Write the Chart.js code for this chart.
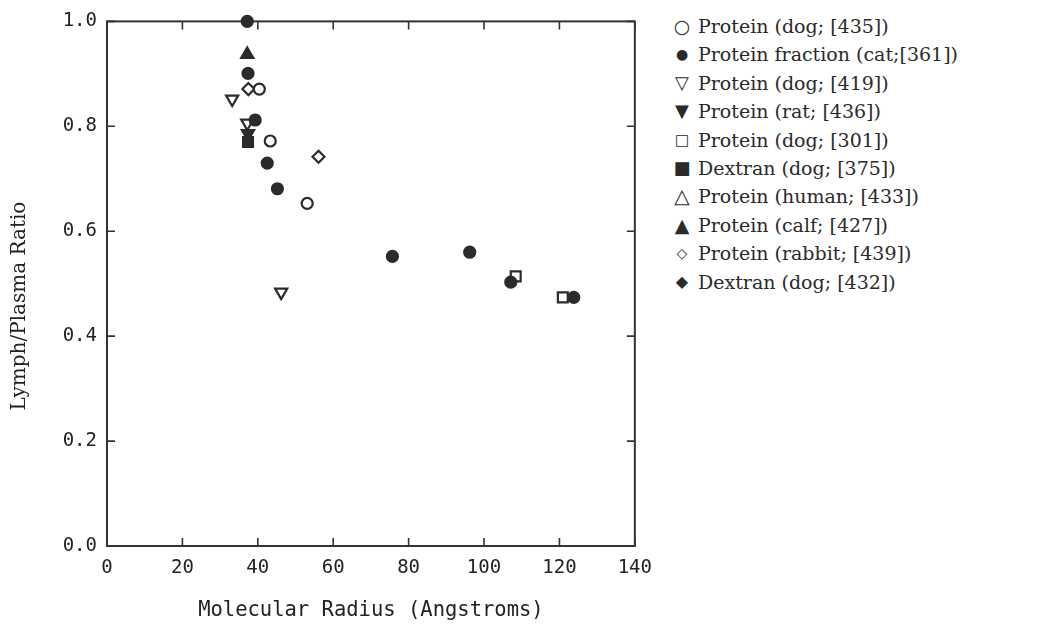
<!DOCTYPE html>
<html>
<head>
<meta charset="utf-8">
<script src="https://cdn.jsdelivr.net/npm/chart.js@4"></script>
<style>
  html, body { margin: 0; padding: 0; background: #fff; }
  #seite { position: relative; width: 1042px; height: 625px; overflow: hidden; }
  #diagramm-box { position: absolute; left: 0; top: 0; width: 663px; height: 625px; }
  #legende { position: absolute; left: 670px; top: 12px; font-family: "DejaVu Serif", serif; font-size: 19px; color: #2a2a2a; }
  #legende .zeile { height: 28.4px; line-height: 28.4px; display: flex; align-items: center; white-space: nowrap; }
  #legende .zeichen { width: 24px; text-align: center; font-family: "DejaVu Sans", sans-serif; margin-right: 4px; }
</style>
</head>
<body>
<div id="seite">
  <div id="diagramm-box"><canvas id="lymph-chart"></canvas></div>
  <div id="legende"></div>
</div>
<script>
// Werte (x = Molekülradius in Angstrom, y = Lymph/Plasma)
const xTicks = [0, 20, 40, 60, 80, 100, 120, 140];
const yTicks = [0.0, 0.2, 0.4, 0.6, 0.8, 1.0];

const labels = [
    'Protein (dog; [435])',
    'Protein fraction (cat;[361])',
    'Protein (dog; [419])',
    'Protein (rat; [436])',
    'Protein (dog; [301])',
    'Dextran (dog; [375])',
    'Protein (human; [433])',
    'Protein (calf; [427])',
    'Protein (rabbit; [439])',
    'Dextran (dog; [432])'
];

const dog435X = [40.4, 43.3, 53.1];
const dog435Y = [0.871, 0.772, 0.653];

const cat361X = [37.2, 37.4, 39.3, 42.5, 45.2, 75.7, 96.2, 107.1, 123.8];
const cat361Y = [1.0, 0.901, 0.812, 0.730, 0.681, 0.552, 0.560, 0.503, 0.474];

const dog419X = [33.2, 37.2, 46.2];
const dog419Y = [0.852, 0.806, 0.484];

const rat436X = [37.4];
const rat436Y = [0.786];

const dog301X = [108.4, 120.9];
const dog301Y = [0.514, 0.474];

const dextran375X = [37.4];
const dextran375Y = [0.770];

const human433X = [];
const human433Y = [];

const calf427X = [37.2];
const calf427Y = [0.937];

const rabbit439X = [37.5, 56.1];
const rabbit439Y = [0.871, 0.742];

const dextran432X = [];
const dextran432Y = [];

// Punkte aus x- und y-Liste zusammensetzen
function punkte(xs, ys) {
    return xs.map(function (x, i) {
        return { x: x, y: ys[i] };
    });
}

const dunkel = '#2b2b2b';

// Marker-Stil pro Serie: [pointStyle, gefüllt, Drehung, Radius, Legendenzeichen, Zeichengrösse]
const stile = [
    ['circle', false, 0, 5.5, '○', 19],
    ['circle', true, 0, 5.5, '●', 14],
    ['triangle', false, 180, 7, '▽', 18],
    ['triangle', true, 180, 7, '▼', 18],
    ['rect', false, 0, 7, '□', 15],
    ['rect', true, 0, 7, '■', 18],
    ['triangle', false, 0, 7, '△', 20],
    ['triangle', true, 0, 7, '▲', 19],
    ['rectRot', false, 0, 6, '◇', 14],
    ['rectRot', true, 0, 6, '◆', 16]
];

const reihen = [
    punkte(dog435X, dog435Y),
    punkte(cat361X, cat361Y),
    punkte(dog419X, dog419Y),
    punkte(rat436X, rat436Y),
    punkte(dog301X, dog301Y),
    punkte(dextran375X, dextran375Y),
    punkte(human433X, human433Y),
    punkte(calf427X, calf427Y),
    punkte(rabbit439X, rabbit439Y),
    punkte(dextran432X, dextran432Y)
];

const datasets = reihen.map(function (daten, i) {
    const s = stile[i];
    return {
        label: labels[i],
        data: daten,
        pointStyle: s[0],
        pointRotation: s[2],
        pointRadius: s[3],
        pointBorderWidth: 2.2,
        pointBorderColor: dunkel,
        pointBackgroundColor: s[1] ? dunkel : '#ffffff',
        showLine: false,
        clip: false
    };
});

// Rahmen mit nach innen zeigenden Strichen auf allen vier Seiten
const rahmen = {
    id: 'rahmen',
    beforeDatasetsDraw: function (chart) {
        const ctx = chart.ctx;
        const a = chart.chartArea;
        const xs = chart.scales.x;
        const ys = chart.scales.y;
        const len = 8;
        ctx.save();
        ctx.strokeStyle = '#333';
        ctx.lineWidth = 2;
        ctx.strokeRect(a.left, a.top, a.right - a.left, a.bottom - a.top);
        ctx.lineWidth = 1.6;
        ctx.beginPath();
        xTicks.forEach(function (t) {
            const px = xs.getPixelForValue(t);
            ctx.moveTo(px, a.bottom);
            ctx.lineTo(px, a.bottom - len);
            ctx.moveTo(px, a.top);
            ctx.lineTo(px, a.top + len);
        });
        yTicks.forEach(function (t) {
            const py = ys.getPixelForValue(t);
            ctx.moveTo(a.left, py);
            ctx.lineTo(a.left + len, py);
            ctx.moveTo(a.right, py);
            ctx.lineTo(a.right - len, py);
        });
        ctx.stroke();
        ctx.restore();
    },
    // y-Achsentitel sitzt im Original etwas unterhalb der Mitte
    afterDraw: function (chart) {
        const ctx = chart.ctx;
        ctx.save();
        ctx.translate(20, 306);
        ctx.rotate(-Math.PI / 2);
        ctx.font = '20px "DejaVu Serif"';
        ctx.fillStyle = '#222';
        ctx.textAlign = 'center';
        ctx.textBaseline = 'middle';
        ctx.fillText('Lymph/Plasma Ratio', 0, 0);
        ctx.restore();
    }
};

new Chart(document.querySelector('#lymph-chart'), {
    type: 'scatter',
    data: { datasets: datasets },
    options: {
        responsive: true,
        maintainAspectRatio: false,
        animation: false,
        layout: { padding: { top: 19, right: 26, bottom: 0, left: 0 } },
        scales: {
            x: {
                type: 'linear',
                min: 0,
                max: 140,
                afterBuildTicks: function (scale) {
                    scale.ticks = xTicks.map(function (v) { return { value: v }; });
                },
                afterFit: function (scale) { scale.height = 79; },
                grid: { display: false, drawTicks: false },
                border: { display: false },
                ticks: {
                    padding: 11,
                    color: '#222',
                    font: { family: 'DejaVu Sans Mono', size: 19 },
                    callback: function (v) { return String(v); }
                },
                title: {
                    display: true,
                    text: 'Molecular Radius (Angstroms)',
                    color: '#222',
                    font: { family: 'DejaVu Sans Mono', size: 20.5 },
                    padding: { top: 0, bottom: 2 }
                }
            },
            y: {
                type: 'linear',
                min: 0,
                max: 1,
                afterBuildTicks: function (scale) {
                    scale.ticks = yTicks.map(function (v) { return { value: v }; });
                },
                afterFit: function (scale) { scale.width = 107; },
                grid: { display: false, drawTicks: false },
                border: { display: false },
                ticks: {
                    padding: 10,
                    color: '#222',
                    font: { family: 'DejaVu Sans Mono', size: 19 },
                    callback: function (v) { return Number(v).toFixed(1); }
                },
                title: { display: false }
            }
        },
        plugins: {
            legend: { display: false },
            tooltip: { enabled: false }
        }
    },
    plugins: [rahmen]
});

// Legende rechts neben dem Diagramm
const legende = document.querySelector('#legende');
labels.forEach(function (text, i) {
    const zeile = document.createElement('div');
    zeile.className = 'zeile';
    const zeichen = document.createElement('span');
    zeichen.className = 'zeichen';
    zeichen.style.fontSize = stile[i][5] + 'px';
    zeichen.textContent = stile[i][4];
    const beschriftung = document.createElement('span');
    beschriftung.textContent = text;
    zeile.appendChild(zeichen);
    zeile.appendChild(beschriftung);
    legende.appendChild(zeile);
});
</script>
</body>
</html>
